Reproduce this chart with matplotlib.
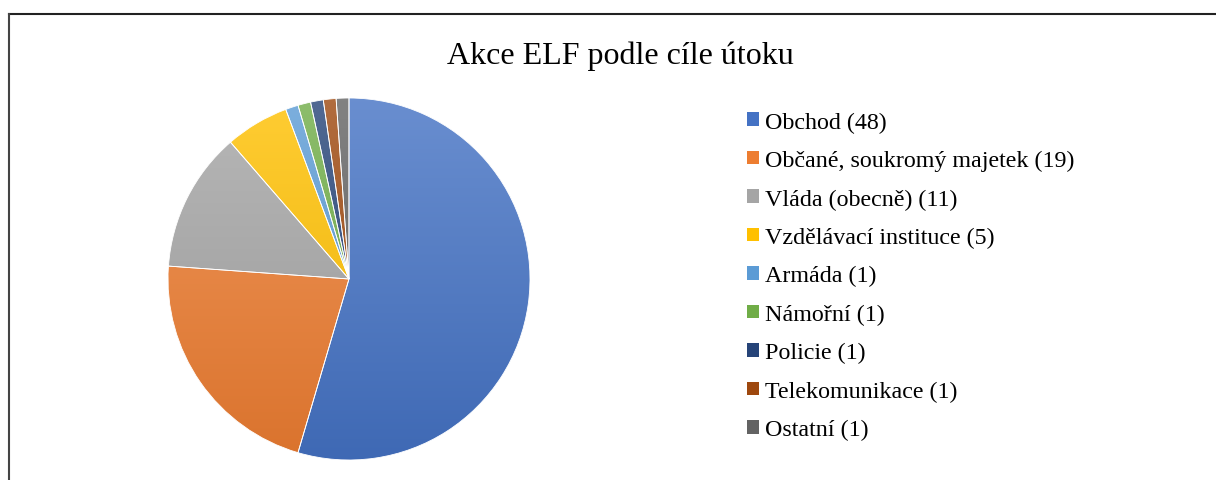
import numpy as np
import matplotlib
matplotlib.use("Agg")
import matplotlib.pyplot as plt
from matplotlib.colors import LinearSegmentedColormap, to_rgb
from matplotlib.patches import Patch
from matplotlib.lines import Line2D

title = "Akce ELF podle cíle útoku"
categories = ["Obchod", "Občané, soukromý majetek", "Vláda (obecně)",
              "Vzdělávací instituce", "Armáda", "Námořní", "Policie",
              "Telekomunikace", "Ostatní"]
values = [48, 19, 11, 5, 1, 1, 1, 1, 1]
colors = ["#4472C4", "#ED7D31", "#A5A5A5", "#FFC000", "#5B9BD5",
          "#70AD47", "#264478", "#9E480E", "#636363"]
labels = [f"{c} ({v})" for c, v in zip(categories, values)]

W, H = 1216, 481
fig = plt.figure(figsize=(W / 100, H / 100), dpi=100)
fig.patch.set_facecolor("white")

# partial frame (top and left edges)
fig.add_artist(Line2D([8.5 / W, 1.0], [1 - 14.5 / H, 1 - 14.5 / H],
                      transform=fig.transFigure, color="#222222", lw=1.5))
fig.add_artist(Line2D([8.5 / W, 8.5 / W], [0, 1 - 14.5 / H],
                      transform=fig.transFigure, color="#444444", lw=1.5))

fig.text(620 / W, 1 - 56 / H, title, ha="center", va="center",
         fontsize=23, family="Liberation Serif", color="#000000")

cx, cy, r = 349, 280, 181
ax = fig.add_axes([(cx - r) / W, (H - cy - r) / H, 2 * r / W, 2 * r / H])

wedges, _ = ax.pie(values, colors=colors, startangle=90, counterclock=False,
                   radius=1, wedgeprops=dict(edgecolor="white", linewidth=0.6))
ax.set_aspect("equal")
ax.axis("off")

grad = np.linspace(0, 1, 256).reshape(-1, 1)


def mix(c, t, a):
    c = np.array(to_rgb(c)); t = np.array(t)
    return tuple(c * (1 - a) + t * a)


for w, c in zip(wedges, colors):
    cmap = LinearSegmentedColormap.from_list(
        "g", [mix(c, (0, 0, 0), 0.08), mix(c, (1, 1, 1), 0.2)])
    im = ax.imshow(grad, extent=[-1, 1, -1, 1], origin="lower", cmap=cmap,
                   aspect="auto", zorder=1, interpolation="bilinear")
    im.set_clip_path(w)
    w.set_facecolor("none")
    w.set_zorder(2)
ax.set_xlim(-1, 1)
ax.set_ylim(-1, 1)

handles = [Patch(facecolor=c, edgecolor="none") for c in colors]
fig.legend(handles, labels, loc="upper left",
           bbox_to_anchor=(747 / W, 1 - 112.5 / H), frameon=False,
           prop=dict(family="Liberation Serif", size=17.3),
           handlelength=0.5, handleheight=0.5, handletextpad=0.25,
           labelspacing=0.72, borderaxespad=0, borderpad=0)

fig.savefig("out.png", dpi=100, facecolor="white")
